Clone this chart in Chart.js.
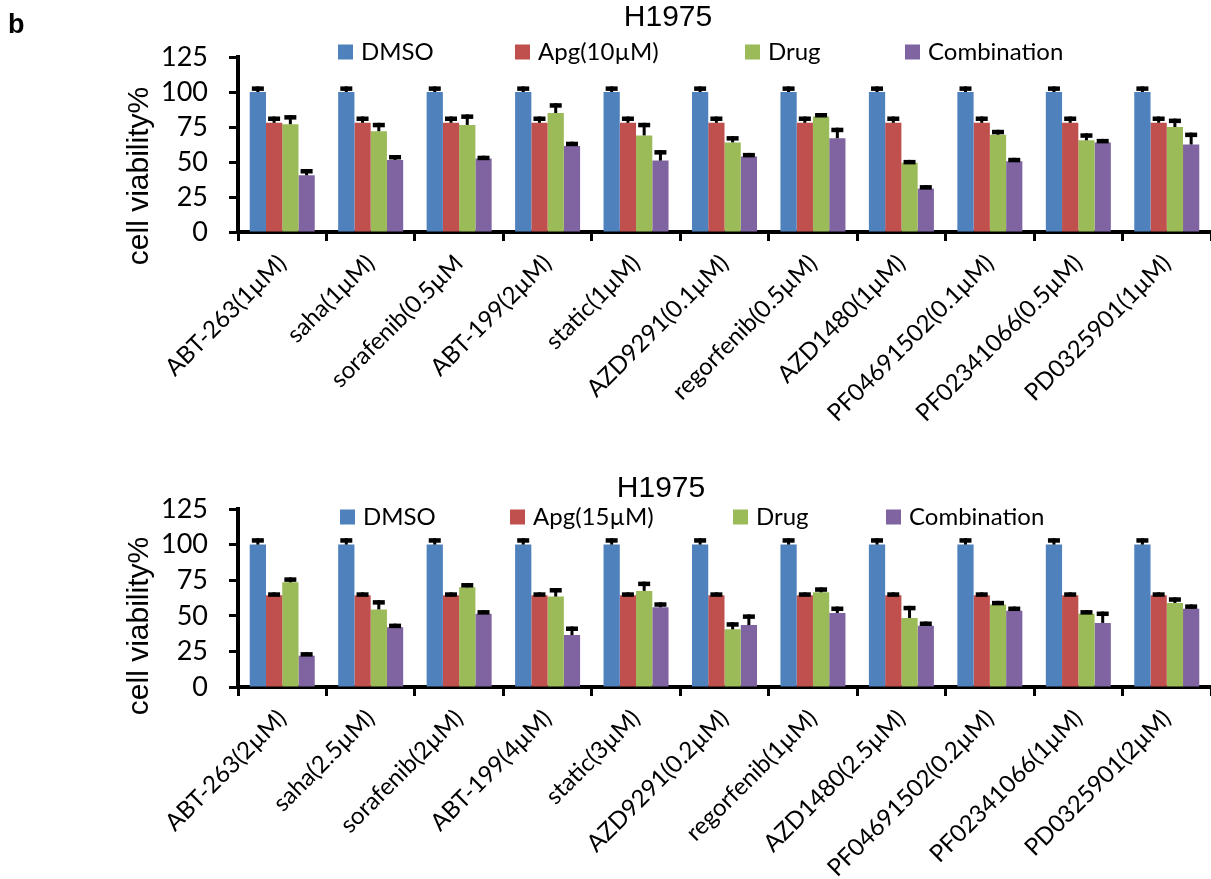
<!DOCTYPE html>
<html>
<head>
<meta charset="utf-8">
<script src="https://cdn.jsdelivr.net/npm/chart.js@4/dist/chart.umd.min.js"></script>
<style>
  body { margin: 0; background: #fff; }
  .panel { position: absolute; left: 0; }
</style>
</head>
<body>
<div class="panel" style="top:0"><canvas id="topChart" width="1211" height="440"></canvas></div>
<div class="panel" style="top:440px"><canvas id="bottomChart" width="1211" height="439"></canvas></div>
<script>
// categories
const drugsTop = ['ABT-263(1µM)', 'saha(1µM)', 'sorafenib(0.5µM', 'ABT-199(2µM)', 'static(1µM)', 'AZD9291(0.1µM)',
    'regorfenib(0.5µM)', 'AZD1480(1µM)', 'PF04691502(0.1µM)', 'PF02341066(0.5µM)', 'PD0325901(1µM)'];
const drugsBottom = ['ABT-263(2µM)', 'saha(2.5µM)', 'sorafenib(2µM)', 'ABT-199(4µM)', 'static(3µM)', 'AZD9291(0.2µM)',
    'regorfenib(1µM)', 'AZD1480(2.5µM)', 'PF04691502(0.2µM)', 'PF02341066(1µM)', 'PD0325901(2µM)'];

// top panel: Apg 10µM
const dmsoTop = [100, 100, 100, 100, 100, 100, 100, 100, 100, 100, 100];
const dmsoTopErr = [4, 4, 4, 4, 4, 4, 4, 4, 4, 4, 4];
const apgTop = [78, 78, 78, 78, 78, 78, 78, 78, 78, 78, 78];
const apgTopErr = [4.5, 4.5, 4.5, 4.5, 4.5, 4.5, 4.5, 4.5, 4.5, 4.5, 4.5];
const drugTop = [77, 72, 76.5, 85, 69, 64, 82.5, 49.5, 69.5, 65.5, 75];
const drugTopErr = [6.5, 6, 7.5, 7, 9, 4.5, 2.5, 2, 3.5, 5, 6];
const combTop = [40.5, 51.5, 52.5, 61.5, 51, 54, 67, 31, 50.5, 64, 62.5];
const combTopErr = [4.5, 3.5, 2, 3, 7.5, 2.5, 7.5, 2.5, 2.5, 2.5, 8.5];

// bottom panel: Apg 15µM
const dmsoBottom = [100, 100, 100, 100, 100, 100, 100, 100, 100, 100, 100];
const dmsoBottomErr = [4.5, 4.5, 4.5, 4.5, 4.5, 4.5, 4.5, 4.5, 4.5, 4.5, 4.5];
const apgBottom = [64.5, 64.5, 64.5, 64.5, 64.5, 64.5, 64.5, 64.5, 64.5, 64.5, 64.5];
const apgBottomErr = [2, 2, 2, 2, 2, 2, 2, 2, 2, 2, 2];
const drugBottom = [73.5, 54.5, 70, 63.5, 67.5, 40.5, 66.5, 48.5, 58, 51.5, 59];
const drugBottomErr = [3.5, 6.5, 3, 6, 6.5, 5, 3.5, 8.5, 2.5, 2.5, 4];
const combBottom = [22, 42, 51.5, 36.5, 56, 43.5, 52, 43, 53.5, 45, 55];
const combBottomErr = [2.5, 2.5, 2.5, 6, 3.5, 7.5, 4.5, 3, 3, 8, 3];

const yTicks = [0, 25, 50, 75, 100, 125];
const colors = ['#4F81BD', '#C0504D', '#9BBB59', '#8064A2'];

// error bars: stem + cap, upward only
const errorBars = {
    id: 'errorBars',
    afterDatasetsDraw(chart) {
        const ctx = chart.ctx;
        const y = chart.scales.y;
        ctx.save();
        ctx.fillStyle = '#000';
        chart.data.datasets.forEach((ds, i) => {
            const meta = chart.getDatasetMeta(i);
            meta.data.forEach((bar, j) => {
                const top = y.getPixelForValue(ds.data[j] + ds.errors[j]);
                ctx.fillRect(bar.x - 1.5, top, 3, bar.y - top);
                ctx.fillRect(bar.x - 6, top, 12, 4.5);
            });
        });
        ctx.restore();
    }
};

// title, legend, axis title and panel letter
const overlay = {
    id: 'overlay',
    afterDraw(chart, args, opts) {
        const ctx = chart.ctx;
        ctx.save();
        ctx.fillStyle = '#000';
        if (opts.letter) {
            ctx.font = 'bold 27px "Liberation Sans", Arial, sans-serif';
            ctx.textAlign = 'left';
            ctx.textBaseline = 'alphabetic';
            ctx.fillText(opts.letter, 8, 33);
        }
        ctx.font = '30px "Liberation Sans", Arial, sans-serif';
        ctx.textAlign = 'center';
        ctx.textBaseline = 'alphabetic';
        ctx.fillText(opts.title, opts.titleX, opts.titleY);

        ctx.font = '24px Lato, sans-serif';
        ctx.textAlign = 'left';
        ctx.textBaseline = 'middle';
        chart.data.datasets.forEach((ds, i) => {
            const x = opts.legendX[i];
            ctx.fillStyle = ds.backgroundColor;
            ctx.fillRect(x, opts.legendY - 7.5, 15, 15);
            ctx.fillStyle = '#000';
            ctx.fillText(ds.label, x + 23, opts.legendY);
        });

        ctx.translate(140, opts.yTitleY);
        ctx.rotate(-Math.PI / 2);
        ctx.font = '30px "Liberation Sans", Arial, sans-serif';
        ctx.textAlign = 'center';
        ctx.textBaseline = 'middle';
        ctx.fillText('cell viability%', 0, 0);
        ctx.restore();
    }
};

function makeChart(id, labels, sets, apgLabel, canvasH, top, bottom, overlayOpts) {
    const names = ['DMSO', apgLabel, 'Drug', 'Combination'];
    return new Chart(document.getElementById(id), {
        type: 'bar',
        data: {
            labels,
            datasets: sets.map((s, i) => ({
                label: names[i],
                data: s[0],
                errors: s[1],
                backgroundColor: colors[i],
                borderWidth: 0,
                categoryPercentage: 0.735,
                barPercentage: 1.0
            }))
        },
        options: {
            responsive: false,
            animation: false,
            layout: { padding: { top: top, left: 0, right: 0, bottom: 0 } },
            plugins: {
                legend: { display: false },
                title: { display: false },
                tooltip: { enabled: false },
                overlay: overlayOpts
            },
            scales: {
                x: {
                    grid: { display: true, drawOnChartArea: false, drawTicks: true, tickLength: 9, tickWidth: 3, tickColor: '#000', offset: true },
                    border: { display: true, color: '#000', width: 4 },
                    ticks: { autoSkip: false, maxRotation: 45, minRotation: 45, color: '#000', font: { family: 'Lato', size: 24 }, padding: 8 },
                    afterFit: s => { s.height = canvasH - bottom; }
                },
                y: {
                    min: 0,
                    max: 125,
                    afterBuildTicks: s => { s.ticks = yTicks.map(v => ({ value: v })); },
                    ticks: { autoSkip: false, color: '#000', font: { family: 'Lato', size: 27 }, padding: 21 },
                    grid: { drawOnChartArea: false, drawTicks: true, tickLength: 9, tickWidth: 3, tickColor: '#000' },
                    border: { display: true, color: '#000', width: 4 },
                    afterFit: s => { s.width = 238; }
                }
            }
        },
        plugins: [errorBars, overlay]
    });
}

makeChart('topChart', drugsTop,
    [[dmsoTop, dmsoTopErr], [apgTop, apgTopErr], [drugTop, drugTopErr], [combTop, combTopErr]],
    'Apg(10µM)', 440, 57, 232,
    { letter: 'b', title: 'H1975', titleX: 668, titleY: 26, legendX: [338, 515, 745, 905], legendY: 52, yTitleY: 176 });

makeChart('bottomChart', drugsBottom,
    [[dmsoBottom, dmsoBottomErr], [apgBottom, apgBottomErr], [drugBottom, drugBottomErr], [combBottom, combBottomErr]],
    'Apg(15µM)', 439, 69, 247,
    { letter: '', title: 'H1975', titleX: 661, titleY: 57, legendX: [340, 510, 733, 886], legendY: 77, yTitleY: 186 });
</script>
</body>
</html>
